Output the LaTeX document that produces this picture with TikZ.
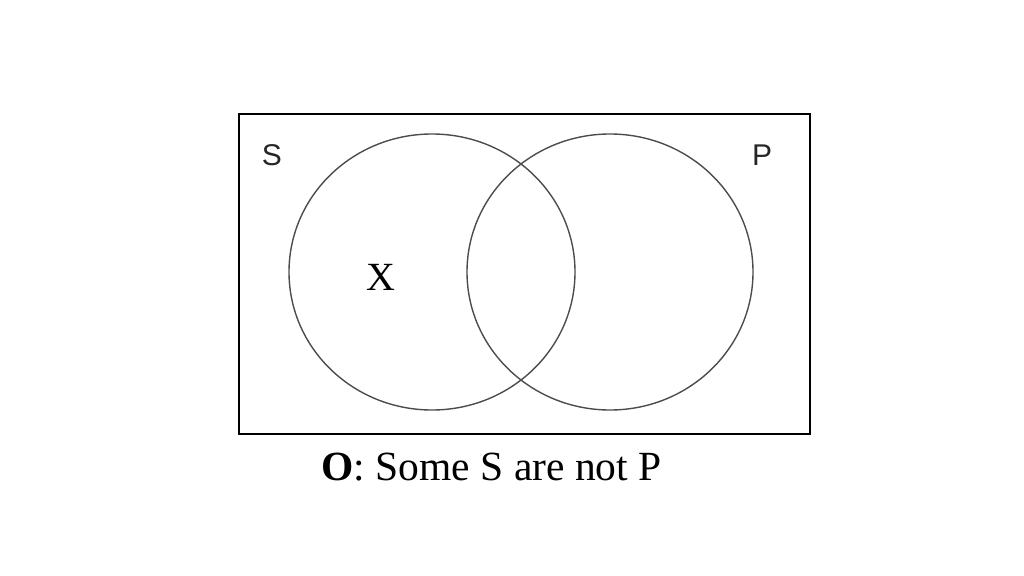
\documentclass[tikz,border=0pt]{standalone}
\usepackage{fontspec}
\setmainfont{Liberation Serif}
\setsansfont{Liberation Sans}
\usetikzlibrary{shapes.geometric}

\begin{document}
\begin{tikzpicture}[x=1pt,y=-1pt,
	setcircle/.style={draw,ellipse,minimum width=286pt,minimum height=276pt,inner sep=0pt,color=black!70,line width=1.4pt},
	setlabel/.style={font=\sffamily\fontsize{30}{30}\selectfont,color=black!85}]
			\useasboundingbox (0,0) rectangle (1024,575);
			\node[draw,line width=2pt,minimum width=571pt,minimum height=319pt,inner sep=0pt] (box) at (524.5,274) {};
			\node[setcircle] (cS) at (432,272) {};
			\node[setcircle] (cP) at (610,272) {};
			\node[setlabel] (lS) at (272,155) {S};
			\node[setlabel] (lP) at (762,155) {P};
			\node[font=\fontsize{40}{40}\selectfont] (x) at (381,277) {X};
			\node[font=\fontsize{41.5}{41.5}\selectfont,anchor=base] (cap) at (491.5,480) {\textbf{O}: Some S are not P};
		\end{tikzpicture}
\end{document}
